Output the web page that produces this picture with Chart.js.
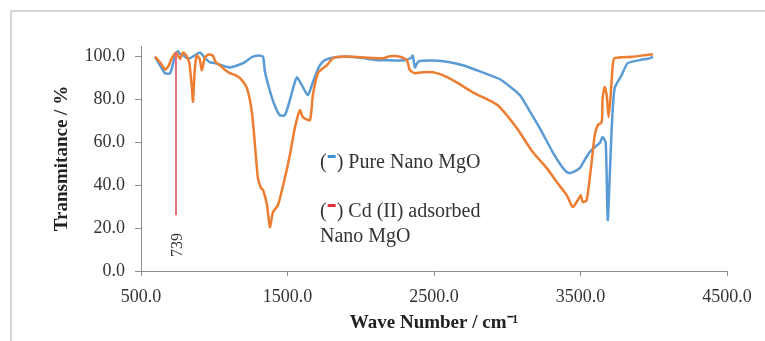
<!DOCTYPE html>
<html>
<head>
<meta charset="utf-8">
<script src="https://cdn.jsdelivr.net/npm/chart.js@4"></script>
<style>
  html, body { margin: 0; padding: 0; background: #fff; }
  #wrap { position: relative; width: 765px; height: 341px; overflow: hidden; }
  #frame { position: absolute; left: 10px; top: 10px; width: 800px; height: 400px;
           border-left: 2px solid #d6d6d6; border-top: 2px solid #d6d6d6; }
  canvas { position: absolute; left: 0; top: 0; }
</style>
</head>
<body>
<div id="wrap">
  <div id="frame"></div>
  <canvas id="ftirChart" width="765" height="341"></canvas>
</div>
<script>
// Pure Nano MgO
const pureWn = [595, 630, 664, 698, 720, 732, 752, 770, 787, 810, 834, 869, 903, 937, 971, 1005, 1050, 1107, 1160, 1210, 1250, 1278, 1312, 1333, 1346, 1380, 1414, 1448, 1482, 1516, 1545, 1564, 1598, 1639, 1666, 1700, 1721, 1755, 1823, 1900, 2000, 2100, 2200, 2300, 2345, 2355, 2370, 2385, 2403, 2500, 2600, 2697, 2800, 2881, 2950, 3020, 3087, 3150, 3222, 3310, 3370, 3406, 3427, 3460, 3495, 3530, 3563, 3600, 3631, 3651, 3672, 3686, 3700, 3713, 3733, 3781, 3822, 3904, 3972, 3995];
const pureT = [100, 96, 92.3, 92.3, 97, 100.7, 102.5, 101, 100.7, 99.5, 99.3, 100.7, 102, 99.3, 97.4, 97, 96, 95, 96, 97.5, 99.5, 100.3, 100.5, 100, 93, 84, 77, 72.7, 72.7, 79.7, 87, 90.4, 86.7, 82, 86.7, 93, 96, 98.4, 99.8, 100, 99.5, 98.5, 98.3, 98.3, 99.5, 100.5, 95, 97, 98, 98.2, 97.5, 96, 93.5, 91.4, 89.5, 86, 82, 75, 66.7, 55.5, 49, 46.2, 45.7, 46.5, 48, 52, 55.5, 58, 59.7, 62.5, 60, 23.8, 45, 66.7, 85.3, 91.4, 97, 98.4, 99.3, 100];

// Cd (II) adsorbed Nano MgO
const cdWn = [595, 630, 664, 690, 711, 739, 766, 787, 810, 830, 848, 855, 865, 880, 900, 916, 935, 960, 990, 1010, 1039, 1070, 1107, 1140, 1176, 1223, 1257, 1278, 1298, 1319, 1333, 1360, 1380, 1401, 1435, 1482, 1516, 1550, 1585, 1605, 1653, 1673, 1707, 1741, 1769, 1810, 1857, 1950, 2050, 2152, 2200, 2267, 2315, 2335, 2370, 2424, 2492, 2560, 2655, 2765, 2901, 2949, 3065, 3174, 3270, 3338, 3406, 3447, 3481, 3502, 3515, 3542, 3576, 3597, 3617, 3645, 3651, 3665, 3679, 3692, 3706, 3720, 3733, 3856, 3972, 3995];
const cdT = [100, 97.4, 94, 96, 99.3, 102, 99, 102, 100.5, 97, 85, 79, 92, 100.5, 99, 93.7, 99.5, 101, 100.5, 97.5, 96, 94, 92.3, 91.5, 90, 85.3, 74, 58.7, 43.4, 38.7, 37.8, 30.8, 20.5, 27.5, 30.8, 43.4, 54, 66.7, 75, 71.8, 70.4, 82, 92.3, 94.6, 96, 99.3, 100, 100, 99.5, 99.3, 100.2, 100, 98.4, 93.7, 92.3, 92.8, 92.8, 91.4, 88, 83.4, 78.8, 76.5, 66.7, 55.5, 48, 41.5, 35.4, 29.8, 33, 35.4, 32.2, 33, 50.8, 63.4, 68, 69.5, 80.7, 85.8, 82, 71.8, 82, 96, 99.3, 100, 101, 101];

// marked band at 739 cm-1
const markerWn = 739;
const markerRange = [26, 102];

const seriesNames = ['Pure Nano MgO', 'Cd (II) adsorbed', 'Nano MgO'];
const xTicks = [500, 1500, 2500, 3500, 4500];
const yTicks = [0, 20, 40, 60, 80, 100];

const toPoints = (xs, ys) => xs.map((x, i) => ({ x: x, y: ys[i] }));

const serif = "'Liberation Serif', 'Times New Roman', serif";
const textColor = '#333';

const notes = {
  id: 'notes',
  afterDraw(chart) {
    const ctx = chart.ctx;
    ctx.save();
    ctx.font = '20px ' + serif;
    ctx.textBaseline = 'alphabetic';
    const item = (y, colour, text) => {
      let x = 320;
      ctx.fillStyle = textColor;
      ctx.fillText('(', x, y);
      x += ctx.measureText('(').width;
      ctx.fillStyle = colour;
      ctx.fillRect(x + 1, y - 13, 8, 3);
      x += 10;
      ctx.fillStyle = textColor;
      ctx.fillText(') ' + text, x, y);
    };
    item(168, '#3a8fd6', seriesNames[0]);
    item(217, '#e0303c', seriesNames[1]);
    ctx.fillStyle = textColor;
    ctx.fillText(seriesNames[2], 320, 242);

    const xs = chart.scales.x;
    ctx.font = '16px ' + serif;
    ctx.translate(xs.getPixelForValue(markerWn) + 2, 245);
    ctx.rotate(-Math.PI / 2);
    ctx.textAlign = 'center';
    ctx.textBaseline = 'middle';
    ctx.fillText(String(markerWn), 0, 0);
    ctx.restore();
  }
};

new Chart(document.querySelector('#ftirChart'), {
  type: 'scatter',
  data: {
    datasets: [
      {
        label: '739',
        data: [{ x: markerWn, y: markerRange[0] }, { x: markerWn, y: markerRange[1] }],
        showLine: true,
        borderColor: '#e8707c',
        borderWidth: 2,
        pointRadius: 0
      },
      {
        label: seriesNames[1] + ' ' + seriesNames[2],
        data: toPoints(cdWn, cdT),
        showLine: true,
        borderColor: '#ed7d31',
        borderWidth: 2.5,
        pointRadius: 0,
        tension: 0.2
      },
      {
        label: seriesNames[0],
        data: toPoints(pureWn, pureT),
        showLine: true,
        borderColor: '#5b9bd5',
        borderWidth: 2.5,
        pointRadius: 0,
        tension: 0.2
      }
    ]
  },
  options: {
    responsive: false,
    animation: false,
    layout: { padding: { left: 0, top: 46, right: 38, bottom: 0 } },
    plugins: {
      legend: { display: false },
      tooltip: { enabled: false }
    },
    scales: {
      x: {
        type: 'linear',
        min: 500,
        max: 4500,
        afterFit: (s) => { s.height = 70; },
        afterBuildTicks: (s) => { s.ticks = xTicks.map(v => ({ value: v })); },
        border: { color: '#8c8c8c', width: 1 },
        grid: { drawOnChartArea: false, color: '#8c8c8c', tickLength: 5 },
        ticks: {
          padding: 10,
          color: textColor,
          font: { family: serif, size: 18 },
          maxRotation: 0,
          callback: (v) => v.toFixed(1)
        },
        title: {
          display: true,
          text: 'Wave Number / cm\u207B\u00B9',
          color: '#222',
          font: { family: serif, size: 19, weight: 'bold' },
          padding: { top: 0, bottom: 7 }
        }
      },
      y: {
        min: 0,
        max: 105,
        afterFit: (s) => { s.width = 141; },
        afterBuildTicks: (s) => { s.ticks = yTicks.map(v => ({ value: v })); },
        border: { color: '#8c8c8c', width: 1 },
        grid: { drawOnChartArea: false, color: '#8c8c8c', tickLength: 6 },
        ticks: {
          padding: 10,
          color: textColor,
          font: { family: serif, size: 18 },
          callback: (v) => v.toFixed(1)
        },
        title: {
          display: true,
          text: 'Transmitance / %',
          color: '#222',
          font: { family: serif, size: 19, weight: 'bold' },
          padding: { top: 51, bottom: 0 }
        }
      }
    }
  },
  plugins: [notes]
});
</script>
</body>
</html>
